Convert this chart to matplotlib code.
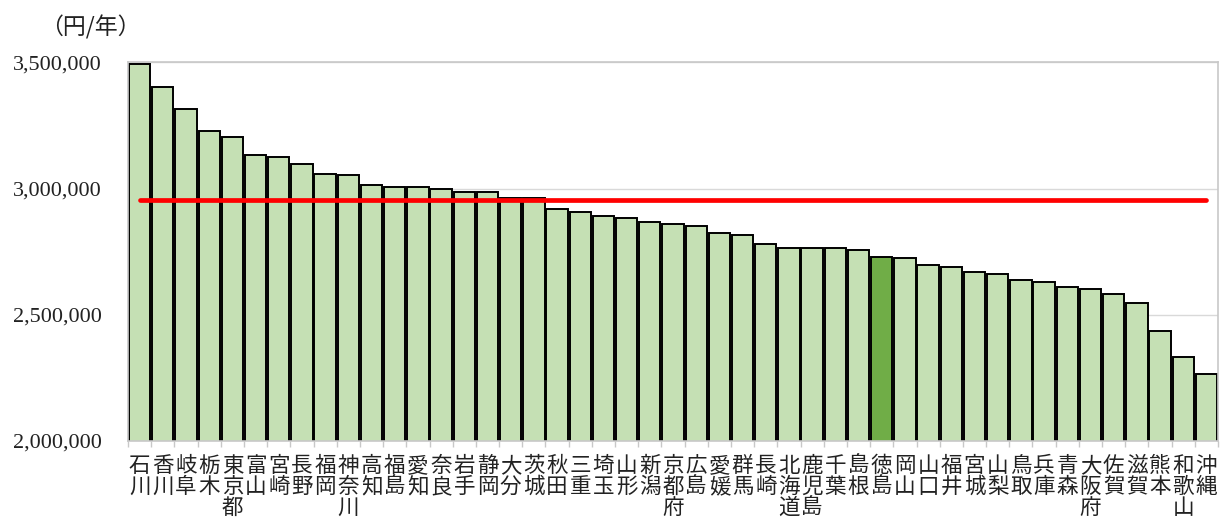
import matplotlib
matplotlib.use("Agg")
import matplotlib.pyplot as plt
import numpy as np
from matplotlib.ticker import FuncFormatter, FixedLocator

prefectures = [
    "石川", "香川", "岐阜", "栃木", "東京都", "富山", "宮崎", "長野", "福岡", "神奈川",
    "高知", "福島", "愛知", "奈良", "岩手", "静岡", "大分", "茨城", "秋田", "三重",
    "埼玉", "山形", "新潟", "京都府", "広島", "愛媛", "群馬", "長崎", "北海道", "鹿児島",
    "千葉", "島根", "徳島", "岡山", "山口", "福井", "宮城", "山梨", "鳥取", "兵庫",
    "青森", "大阪府", "佐賀", "滋賀", "熊本", "和歌山", "沖縄",
]
values = [
    3492000, 3403000, 3316000, 3228000, 3205000, 3133000, 3125000, 3096000, 3059000, 3052000,
    3014000, 3006000, 3006000, 2999000, 2985000, 2985000, 2964000, 2964000, 2919000, 2906000,
    2890000, 2882000, 2869000, 2859000, 2851000, 2823000, 2816000, 2779000, 2763000, 2763000,
    2763000, 2755000, 2727000, 2726000, 2698000, 2690000, 2668000, 2661000, 2639000, 2631000,
    2609000, 2602000, 2581000, 2545000, 2434000, 2331000, 2264000,
]
national_average = 2954000
highlight = "徳島"
y_ticks = [2000000, 2500000, 3000000, 3500000]
unit_label = "（円/年）"

fig = plt.figure(figsize=(12.24, 5.24), dpi=100)
ax = fig.add_axes([0.1046, 0.1584, 0.8905, 0.7227])

x = np.arange(len(prefectures))
colors = ["#70AD47" if p == highlight else "#C5E0B4" for p in prefectures]
ax.bar(x, values, width=0.92, color=colors, edgecolor="black", linewidth=1.4, zorder=2)
ax.plot(x, [national_average] * len(x), color="#FF0000", linewidth=3.4,
        solid_capstyle="round", zorder=3)

ax.set_xlim(-0.5, len(prefectures) - 0.5)
ax.set_ylim(y_ticks[0], y_ticks[-1])
ax.yaxis.set_major_locator(FixedLocator(y_ticks))
ax.yaxis.set_major_formatter(FuncFormatter(lambda v, _: f"{int(v):,}"))
ax.grid(axis="y", color="#D9D9D9", linewidth=1.0, zorder=0)
ax.set_axisbelow(True)

for side in ["left", "right", "top", "bottom"]:
    ax.spines[side].set_color("#C8C8C8")
    ax.spines[side].set_linewidth(1.2)

ax.tick_params(axis="y", length=0, pad=19, labelsize=16)
for lbl in ax.get_yticklabels():
    lbl.set_fontfamily("Liberation Serif")
    lbl.set_color("#222222")

ax.set_xticks(x)
ax.set_xticklabels(["\n".join(p) for p in prefectures],
                   fontfamily=["Noto Sans CJK JP", "DejaVu Sans"], fontsize=15.5,
                   linespacing=0.95, va="top", color="#222222")
ax.tick_params(axis="x", length=0, pad=10)
ax.set_xticks(np.arange(len(prefectures) + 1) - 0.5, minor=True)
ax.tick_params(axis="x", which="minor", length=4, color="#C8C8C8", width=1)

fig.text(0.0735, 0.948, unit_label, fontfamily=["Noto Sans CJK JP", "DejaVu Sans"],
         fontsize=16.5, ha="center", va="center", color="#222222")

fig.savefig("out.png", dpi=100)
